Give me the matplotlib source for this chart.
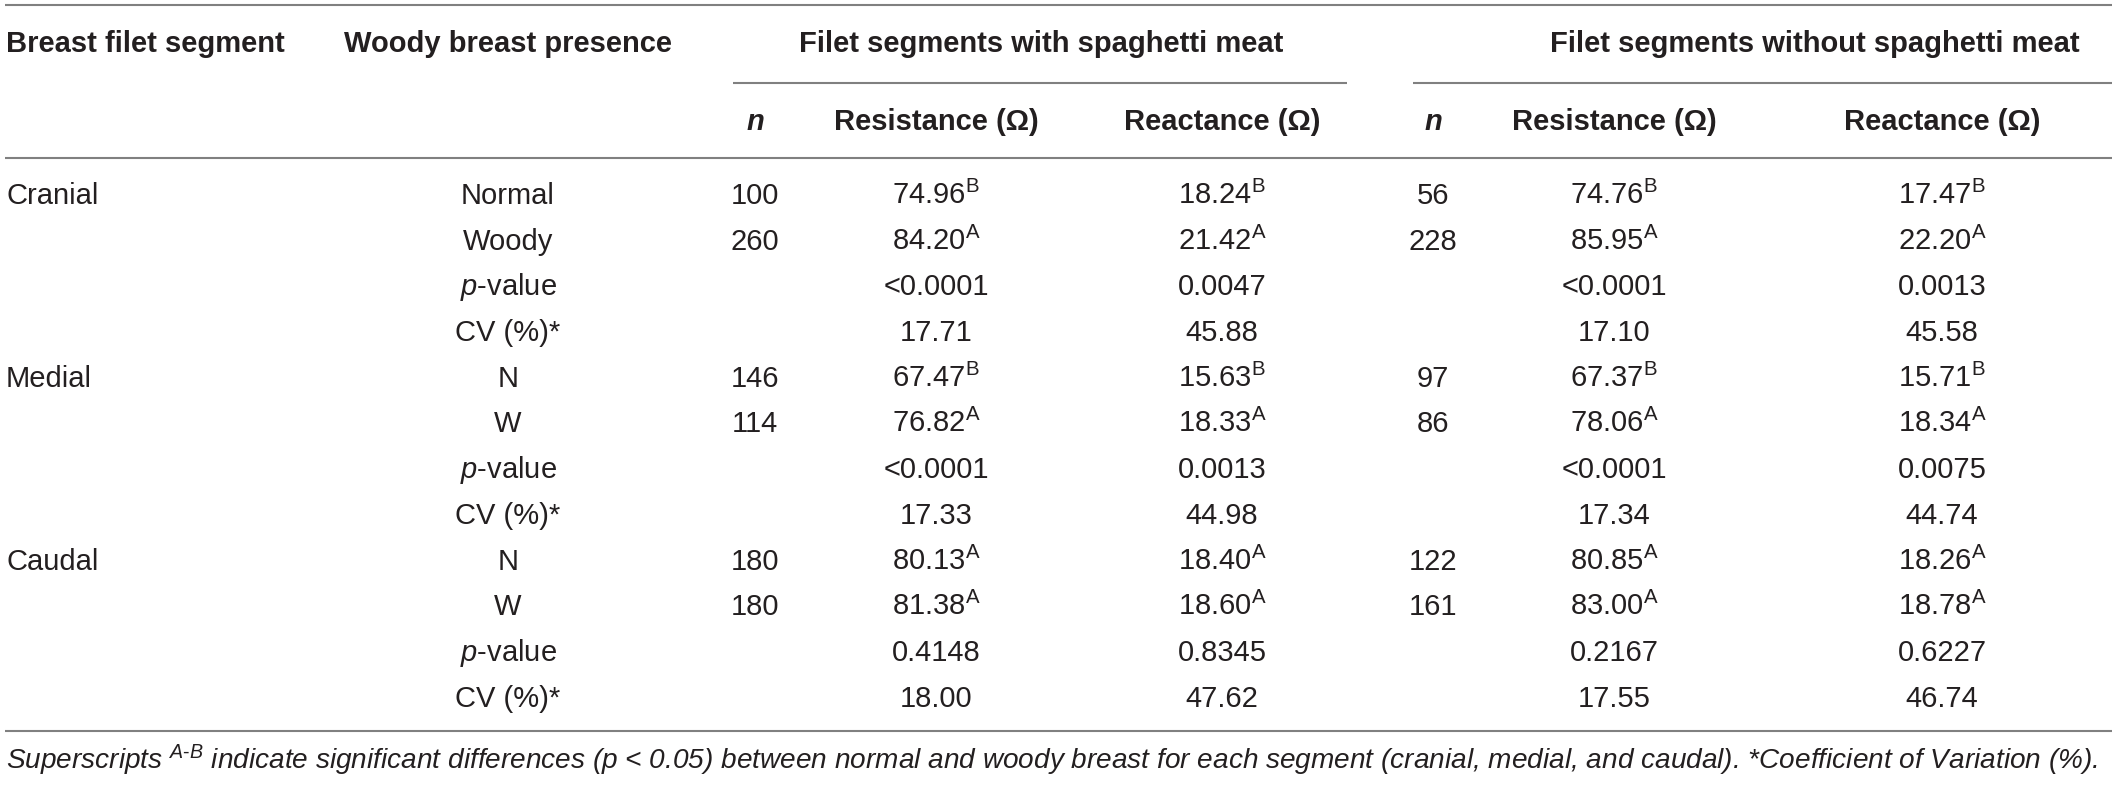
import matplotlib
matplotlib.use('Agg')
import matplotlib.pyplot as plt

# table data
segments = ['Cranial', 'Medial', 'Caudal']
presence = [['Normal', 'Woody'], ['N', 'W'], ['N', 'W']]

# filet segments with spaghetti meat
n_with = [100, 260, 146, 114, 180, 180]
res_with = [74.96, 84.20, 67.47, 76.82, 80.13, 81.38]
res_with_sup = ['B', 'A', 'B', 'A', 'A', 'A']
reac_with = [18.24, 21.42, 15.63, 18.33, 18.40, 18.60]
reac_with_sup = ['B', 'A', 'B', 'A', 'A', 'A']
p_res_with = ['<0.0001', '<0.0001', '0.4148']
p_reac_with = ['0.0047', '0.0013', '0.8345']
cv_res_with = [17.71, 17.33, 18.00]
cv_reac_with = [45.88, 44.98, 47.62]

# filet segments without spaghetti meat
n_without = [56, 228, 97, 86, 122, 161]
res_without = [74.76, 85.95, 67.37, 78.06, 80.85, 83.00]
res_without_sup = ['B', 'A', 'B', 'A', 'A', 'A']
reac_without = [17.47, 22.20, 15.71, 18.34, 18.26, 18.78]
reac_without_sup = ['B', 'A', 'B', 'A', 'A', 'A']
p_res_without = ['<0.0001', '<0.0001', '0.2167']
p_reac_without = ['0.0013', '0.0075', '0.6227']
cv_res_without = [17.10, 17.34, 17.55]
cv_reac_without = [45.58, 44.74, 46.74]

footnote = (r'Superscripts $^{\mathit{A}\text{-}\mathit{B}}$ indicate significant differences (p < 0.05) '
            'between normal and woody breast for each segment (cranial, medial, and caudal). '
            '*Coefficient of Variation (%).')

plt.rcParams['font.family'] = ['Liberation Sans', 'DejaVu Sans']
plt.rcParams['mathtext.fontset'] = 'custom'
plt.rcParams['mathtext.rm'] = 'Liberation Sans'
plt.rcParams['mathtext.it'] = 'Liberation Sans:italic'
plt.rcParams['mathtext.bf'] = 'Liberation Sans:bold'

W, H = 2117, 785
fig = plt.figure(figsize=(W / 100, H / 100), dpi=100)
ax = fig.add_axes([0, 0, 1, 1])
ax.set_xlim(0, W)
ax.set_ylim(H, 0)
ax.axis('off')

txt = '#231f20'
rule = '#808080'
fs = 21
off = 10  # baseline offset from visual center

def put(x, y, s, ha='center', **kw):
    ax.text(x, y + off, s, ha=ha, va='baseline', fontsize=kw.pop('fontsize', fs), color=txt, **kw)

def hline(x0, x1, y):
    ax.plot([x0, x1], [y, y], color=rule, lw=1.5, solid_capstyle='butt')

# rules
hline(5, 2112, 5)
hline(733, 1347, 83)
hline(1413, 2112, 83)
hline(5, 2112, 158)
hline(5, 2112, 731)

# column centers
x_pres = 508
x_n1, x_r1, x_x1 = 755, 936, 1222
x_n2, x_r2, x_x2 = 1433, 1614, 1942

# header
put(6, 42, 'Breast filet segment', ha='left', fontweight='bold')
put(x_pres, 42, 'Woody breast presence', fontweight='bold')
put(1041, 42, 'Filet segments with spaghetti meat', fontweight='bold')
put(1815, 42, 'Filet segments without spaghetti meat', fontweight='bold')
for xn, xr, xx in [(x_n1, x_r1, x_x1), (x_n2, x_r2, x_x2)]:
    put(xn, 120, 'n', fontweight='bold', style='italic')
    put(xr, 120, 'Resistance (Ω)', fontweight='bold')
    put(xx, 120, 'Reactance (Ω)', fontweight='bold')

# body
y0, dy = 194, 45.7
for s, seg in enumerate(segments):
    ys = y0 + s * 4 * dy
    put(6, ys, seg, ha='left')
    for k in range(2):
        i = s * 2 + k
        y = ys + k * dy
        put(x_pres, y, presence[s][k])
        put(x_n1, y, str(n_with[i]))
        put(x_r1, y, f'{res_with[i]:.2f}$^{{\\mathrm{{{res_with_sup[i]}}}}}$')
        put(x_x1, y, f'{reac_with[i]:.2f}$^{{\\mathrm{{{reac_with_sup[i]}}}}}$')
        put(x_n2, y, str(n_without[i]))
        put(x_r2, y, f'{res_without[i]:.2f}$^{{\\mathrm{{{res_without_sup[i]}}}}}$')
        put(x_x2, y, f'{reac_without[i]:.2f}$^{{\\mathrm{{{reac_without_sup[i]}}}}}$')
    y = ys + 2 * dy
    put(x_pres, y, r'$\mathit{p}$-value')
    put(x_r1, y, p_res_with[s])
    put(x_x1, y, p_reac_with[s])
    put(x_r2, y, p_res_without[s])
    put(x_x2, y, p_reac_without[s])
    y = ys + 3 * dy
    put(x_pres, y, 'CV (%)*')
    put(x_r1, y, f'{cv_res_with[s]:.2f}')
    put(x_x1, y, f'{cv_reac_with[s]:.2f}')
    put(x_r2, y, f'{cv_res_without[s]:.2f}')
    put(x_x2, y, f'{cv_reac_without[s]:.2f}')

put(6, 759, footnote, ha='left', style='italic', fontsize=20.2)

fig.savefig('out.png', dpi=100)
